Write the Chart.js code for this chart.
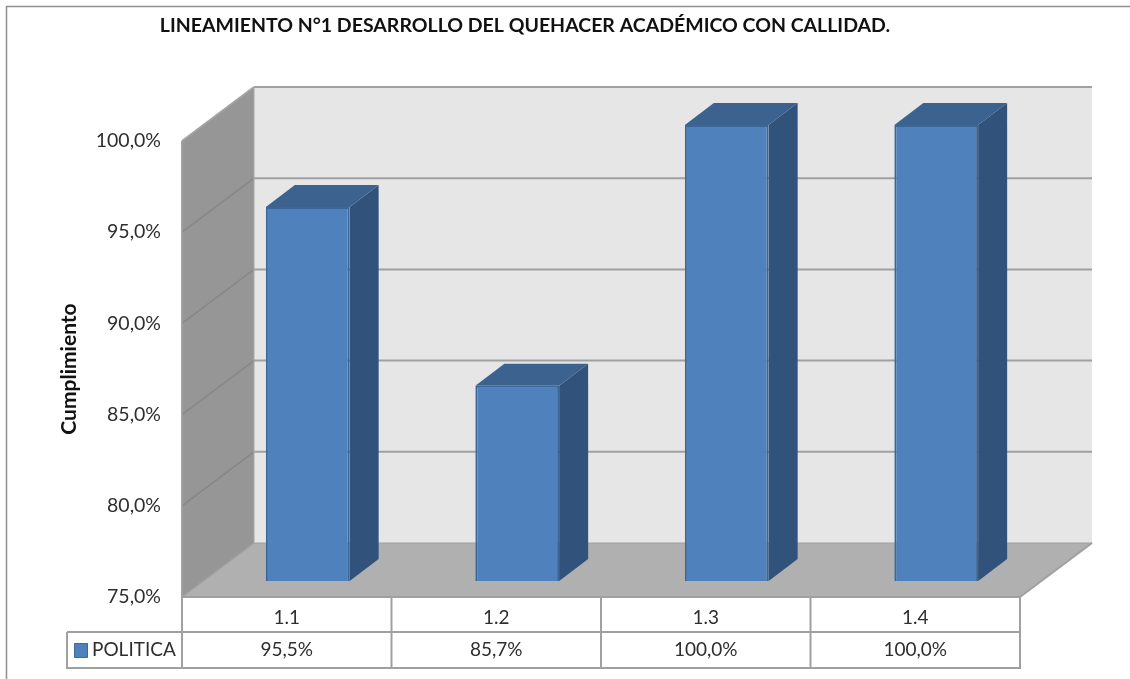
<!DOCTYPE html>
<html>
<head>
<meta charset="utf-8">
<style>
html,body{margin:0;padding:0;background:#fff}
#wrap{width:1130px;height:679px;position:relative;overflow:hidden}
</style>
<script src="https://cdn.jsdelivr.net/npm/chart.js@4/dist/chart.umd.min.js"></script>
</head>
<body>
<div id="wrap"><canvas id="c" width="1130" height="679"></canvas></div>
<script>
const categories = ['1.1', '1.2', '1.3', '1.4'];
const seriesName = 'POLITICA';
const politicaValues = [95.5, 85.7, 100, 100];
const titleText = 'LINEAMIENTO N°1 DESARROLLO DEL QUEHACER ACADÉMICO CON CALLIDAD.';
const axisTitle = 'Cumplimiento';
const yMin = 75, yMax = 100, yStep = 5;

const FONT = 'Lato, Carlito, "Open Sans", sans-serif';
const TEXT = '#2e2e2e';
const LINE = '#a0a0a0';
const DEPTH_X = 72, DEPTH_Y = 54;
const BAR_OFF_X = 21, BAR_OFF_Y = 16, BAR_DX = 29, BAR_DY = 22;
const TABLE_ROW1 = 632, TABLE_ROW2 = 668, TABLE_LEFT = 67;

const fmt = v => v.toFixed(1).replace('.', ',') + '%';

function poly(ctx, pts, fill, stroke, lw) {
  ctx.beginPath();
  pts.forEach((p, i) => i ? ctx.lineTo(p[0], p[1]) : ctx.moveTo(p[0], p[1]));
  ctx.closePath();
  if (fill) { ctx.fillStyle = fill; ctx.fill(); }
  if (stroke) { ctx.strokeStyle = stroke; ctx.lineWidth = lw || 1; ctx.stroke(); }
}
function seg(ctx, x1, y1, x2, y2, color, lw) {
  ctx.beginPath(); ctx.moveTo(x1, y1); ctx.lineTo(x2, y2);
  ctx.strokeStyle = color; ctx.lineWidth = lw; ctx.stroke();
}

const frame3d = {
  id: 'frame3d',
  beforeDraw(chart) {
    const c = chart.ctx;
    c.save();
    seg(c, 6, 6.5, 1130, 6.5, '#8f8f8f', 1.5);
    seg(c, 6.5, 6, 6.5, 679, '#8f8f8f', 1.5);
    c.restore();
  },
  beforeDatasetsDraw(chart) {
    const c = chart.ctx, a = chart.chartArea, ys = chart.scales.y, xs = chart.scales.x;
    const L = a.left, R = a.right, T = a.top, B = a.bottom;
    c.save();
    // back wall
    poly(c, [[L + DEPTH_X, T - DEPTH_Y], [R + DEPTH_X, T - DEPTH_Y], [R + DEPTH_X, B - DEPTH_Y], [L + DEPTH_X, B - DEPTH_Y]], '#e6e6e6');
    // left wall
    poly(c, [[L, T], [L + DEPTH_X, T - DEPTH_Y], [L + DEPTH_X, B - DEPTH_Y], [L, B]], '#969696');
    // floor
    poly(c, [[L, B], [L + DEPTH_X, B - DEPTH_Y], [R + DEPTH_X, B - DEPTH_Y], [R, B]], '#b0b0b0');
    // gridlines from the y scale
    ys.ticks.forEach(t => {
      const y = ys.getPixelForValue(t.value);
      if (t.value > yMin) {
        seg(c, L + DEPTH_X, y - DEPTH_Y, R + DEPTH_X, y - DEPTH_Y, LINE, 2);
        seg(c, L, y, L + DEPTH_X, y - DEPTH_Y, t.value === yMax ? '#a3a3a3' : '#878787', t.value === yMax ? 2 : 1.5);
      }
    });
    seg(c, L, T, L, B, LINE, 2);
    seg(c, L + DEPTH_X, T - DEPTH_Y, L + DEPTH_X, B - DEPTH_Y, '#a8a8a8', 1);
    seg(c, R, B, R + DEPTH_X, B - DEPTH_Y, LINE, 2);
    seg(c, L, B, L + DEPTH_X, B - DEPTH_Y, LINE, 1.5);
    seg(c, L + DEPTH_X, B - DEPTH_Y, R + DEPTH_X, B - DEPTH_Y, LINE, 1);

    // data table
    seg(c, L - 1, B, R + 1, B, LINE, 2);
    seg(c, TABLE_LEFT, TABLE_ROW1, R + 1, TABLE_ROW1, LINE, 2);
    seg(c, TABLE_LEFT, TABLE_ROW2, R + 1, TABLE_ROW2, LINE, 2);
    seg(c, TABLE_LEFT, TABLE_ROW1, TABLE_LEFT, TABLE_ROW2 + 1, LINE, 2);
    for (let i = 0; i <= categories.length; i++) {
      const x = L + (R - L) * i / categories.length;
      seg(c, x, B, x, TABLE_ROW2 + 1, LINE, 2);
    }
    // legend key + name
    poly(c, [[74.5, 643.5], [87.5, 643.5], [87.5, 657.5], [74.5, 657.5]], '#4f81bd', '#3d6898', 1);
    c.fillStyle = TEXT;
    c.font = '19px ' + FONT;
    c.textBaseline = 'middle';
    c.textAlign = 'left';
    c.fillText(seriesName, 92, 650);
    // values row
    c.textAlign = 'center';
    politicaValues.forEach((v, i) => c.fillText(fmt(v), xs.getPixelForValue(i), 650));
    c.restore();
  },
  beforeDatasetDraw(chart, args) {
    const c = chart.ctx, meta = args.meta;
    c.save();
    c.translate(BAR_OFF_X, -BAR_OFF_Y);
    // top and side faces of every bar, from the laid-out bar elements
    meta.data.forEach(b => {
      const l = b.x - b.width / 2, r = b.x + b.width / 2, t = b.y, bt = b.base;
      poly(c, [[r, t], [r + BAR_DX, t - BAR_DY], [r + BAR_DX, bt - BAR_DY], [r, bt]], '#31527a');
      poly(c, [[l, t], [l + BAR_DX, t - BAR_DY], [r + BAR_DX, t - BAR_DY], [r, t]], '#3c638f');
    });
  },
  afterDatasetDraw(chart) {
    chart.ctx.restore();
  }
};

new Chart(document.getElementById('c'), {
  type: 'bar',
  data: {
    labels: categories,
    datasets: [{
      label: seriesName,
      data: politicaValues,
      base: yMin,
      backgroundColor: '#4f81bd',
      borderColor: '#3a6797',
      borderWidth: 2,
      barPercentage: 0.4,
      categoryPercentage: 1,
      clip: false
    }]
  },
  options: {
    responsive: false,
    animation: false,
    events: [],
    layout: { autoPadding: false, padding: { left: 30, right: 110, top: 0, bottom: 0 } },
    plugins: {
      legend: { display: false },
      tooltip: { enabled: false },
      title: {
        display: true,
        text: titleText,
        color: '#111',
        font: { family: FONT, size: 19.5, weight: 'bold' },
        padding: { top: 14, bottom: 103.6 }
      }
    },
    scales: {
      x: {
        afterFit(s) { s.height = 82; },
        grid: { display: false, drawTicks: false },
        border: { display: false },
        ticks: { color: TEXT, font: { family: FONT, size: 19 }, padding: 9, maxRotation: 0, autoSkip: false }
      },
      y: {
        min: yMin, max: yMax,
        afterFit(s) { s.width = 152; },
        grid: { display: false, drawTicks: false },
        border: { display: false },
        title: {
          display: true, text: axisTitle, color: '#111',
          font: { family: FONT, size: 21, weight: 'bold' },
          padding: { top: 27, bottom: 0 }
        },
        ticks: { color: TEXT, font: { family: FONT, size: 19.5 }, padding: 21, stepSize: yStep, callback: v => fmt(v) }
      }
    }
  },
  plugins: [frame3d]
});
</script>
</body>
</html>
